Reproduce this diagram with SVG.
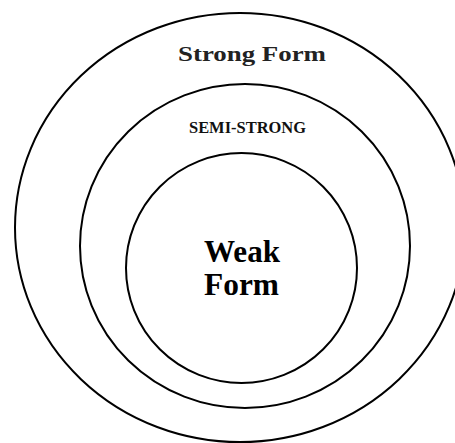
<svg xmlns="http://www.w3.org/2000/svg" width="455" height="443" viewBox="0 0 455 443">
<style>
.ring{fill:none;stroke:#000;stroke-width:2}
.t{font-family:"Liberation Serif","Times New Roman",serif;font-weight:bold;text-anchor:middle}
</style>
<rect width="455" height="443" fill="#fff"/>
<g id="strong">
<ellipse class="ring" cx="240" cy="227.5" rx="225" ry="214.5"/>
<text class="t" x="252" y="61" font-size="20" fill="#222" textLength="148" lengthAdjust="spacingAndGlyphs">Strong Form</text>
</g>
<g id="semistrong">
<ellipse class="ring" cx="245" cy="246" rx="165" ry="162"/>
<text class="t" x="247.5" y="133" font-size="16" fill="#111" textLength="117" lengthAdjust="spacingAndGlyphs">SEMI-STRONG</text>
</g>
<g id="weak">
<ellipse class="ring" cx="241.5" cy="268" rx="115.5" ry="115"/>
<text class="t" x="242" y="262" font-size="31" fill="#000" textLength="76" lengthAdjust="spacingAndGlyphs">Weak</text>
<text class="t" x="241.5" y="295" font-size="31" fill="#000" textLength="75" lengthAdjust="spacingAndGlyphs">Form</text>
</g>
<g id="connectors"/>
</svg>
